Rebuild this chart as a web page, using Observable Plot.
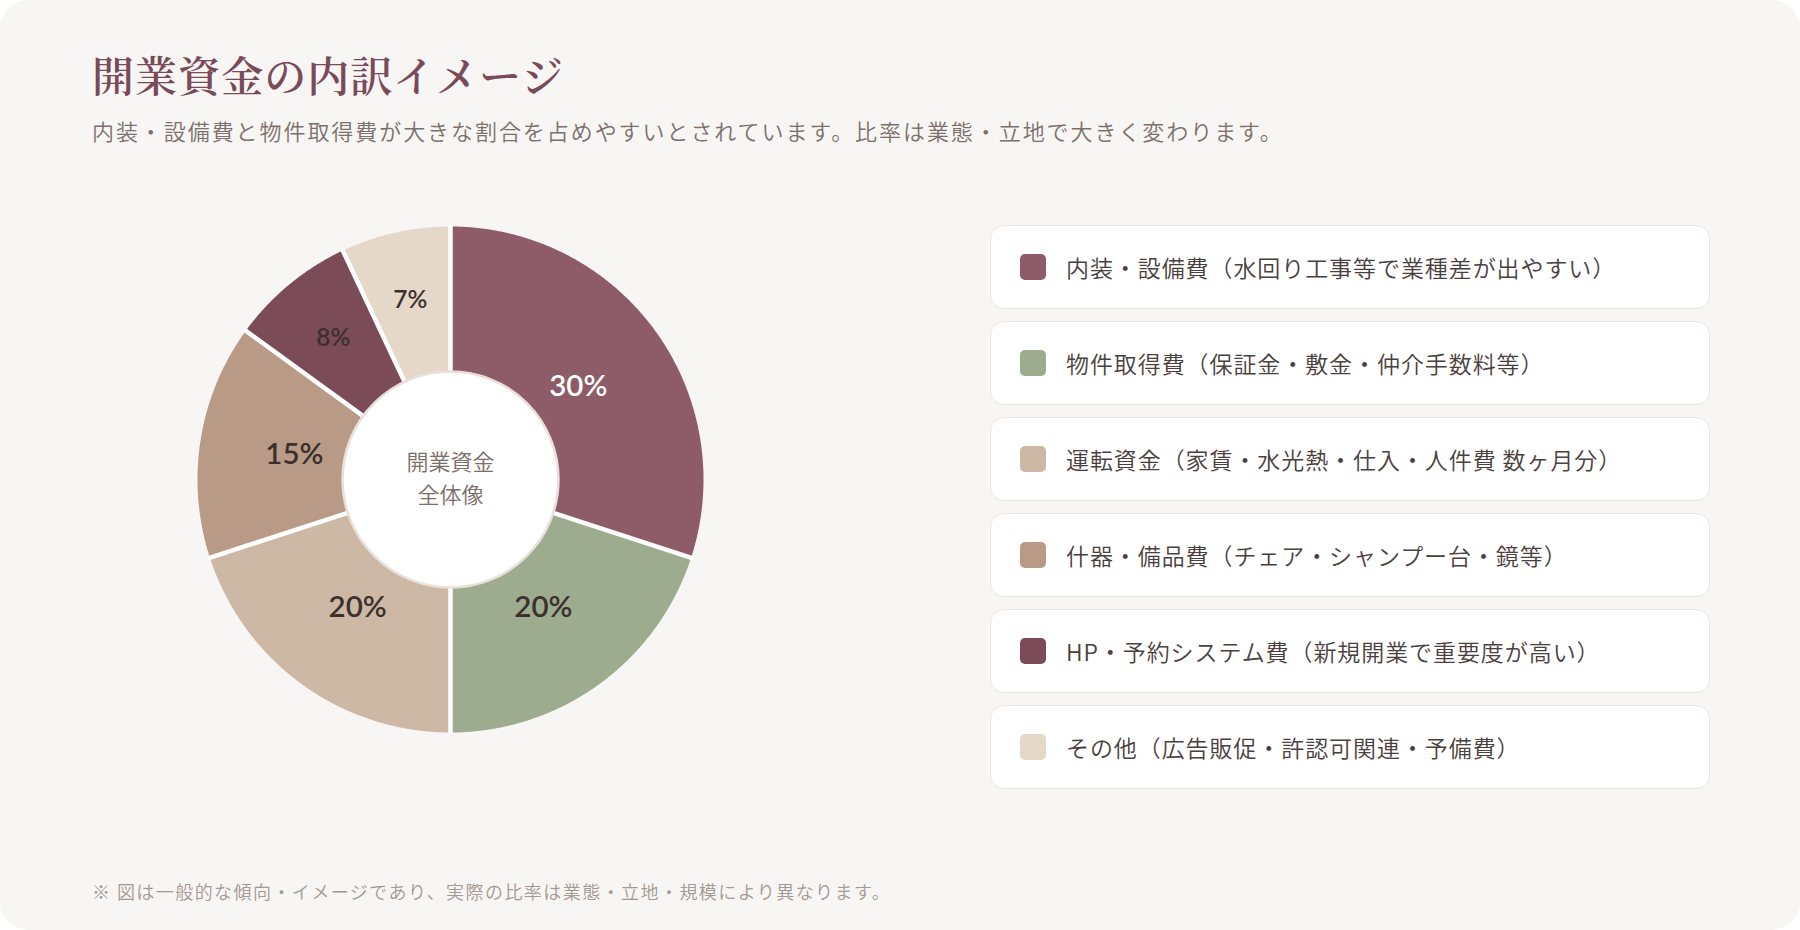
<!DOCTYPE html>
<html lang="ja">
<head>
<meta charset="utf-8">
<title>開業資金の内訳イメージ</title>
<script src="https://cdn.jsdelivr.net/npm/d3@7"></script>
<script src="https://cdn.jsdelivr.net/npm/@observablehq/plot@0.6"></script>
<style>
  html, body { margin: 0; padding: 0; background: #ffffff; }
  body { width: 1800px; height: 930px; overflow: hidden; font-family: "Noto Sans CJK JP", "Noto Sans", sans-serif; }
  .card { position: absolute; left: 0; top: 0; width: 1800px; height: 930px; background: #f8f6f4; border-radius: 28px; }
  .title { position: absolute; left: 92px; top: 53px; margin: 0; font-family: "Noto Serif CJK JP", "Noto Sans CJK JP", serif; font-weight: 600; font-size: 42px; line-height: 1; color: #7b4a58; letter-spacing: 0.025em; }
  .subtitle { position: absolute; left: 92px; top: 119px; margin: 0; font-size: 22px; line-height: 1; color: #7b706b; letter-spacing: 0.088em; font-weight: 350; }
  #chart { position: absolute; left: 150px; top: 179px; width: 600px; height: 600px; }
  .legend { position: absolute; left: 990px; top: 225px; width: 720px; display: flex; flex-direction: column; gap: 12px; }
  .item { box-sizing: border-box; height: 84px; background: #ffffff; border: 1.5px solid #ece5e1; border-radius: 14px; display: flex; align-items: center; padding-left: 29px; }
  .swatch { width: 26px; height: 26px; border-radius: 5px; flex: none; margin-right: 20px; }
  .label { font-size: 23px; color: #4a403d; letter-spacing: 0.04em; white-space: nowrap; font-weight: 350; }
  .note { position: absolute; left: 92px; top: 882px; margin: 0; font-size: 18px; line-height: 1; color: #a39893; letter-spacing: 0.08em; font-weight: 350; }
</style>
</head>
<body>
<div class="card">
  <h1 class="title">開業資金の内訳イメージ</h1>
  <p class="subtitle">内装・設備費と物件取得費が大きな割合を占めやすいとされています。比率は業態・立地で大きく変わります。</p>
  <div id="chart"></div>
  <div class="legend" id="legend"></div>
  <p class="note">※ 図は一般的な傾向・イメージであり、実際の比率は業態・立地・規模により異なります。</p>
</div>
<script>
// Breakdown of start-up funds (percent of total), clockwise from 12 o'clock
const categories = ["内装・設備費", "物件取得費", "運転資金", "什器・備品費", "HP・予約システム費", "その他"];
const details = [
  "（水回り工事等で業種差が出やすい）",
  "（保証金・敷金・仲介手数料等）",
  "（家賃・水光熱・仕入・人件費 数ヶ月分）",
  "（チェア・シャンプー台・鏡等）",
  "（新規開業で重要度が高い）",
  "（広告販促・許認可関連・予備費）"
];
const shares = [30, 20, 20, 15, 8, 7];
const colors = ["#8e5b68", "#9dab8f", "#cdb8a6", "#b99a86", "#7b4b57", "#e5d8c9"];
const centerLines = ["開業資金", "全体像"];

// Geometry of the donut, in pixels
const SIZE = 600, R = 253, R_IN = 108;
const R_LABEL = 158, R_LABEL_SMALL = 184;

const rows = categories.map((name, i) => ({name, value: shares[i], color: colors[i]}));
const arcs = d3.pie().sort(null).value(d => d.value)(rows);

// Polygon outline for each slice: centre, then along the outer rim
const step = Math.PI / 720;
const slicePoints = arcs.flatMap((a, i) => {
  const pts = [{k: i, color: a.data.color, x: 0, y: 0}];
  for (let t = a.startAngle; t < a.endAngle; t += step) {
    pts.push({k: i, color: a.data.color, x: R * Math.sin(t), y: R * Math.cos(t)});
  }
  pts.push({k: i, color: a.data.color, x: R * Math.sin(a.endAngle), y: R * Math.cos(a.endAngle)});
  return pts;
});

const mid = a => (a.startAngle + a.endAngle) / 2;
const labelR = a => (a.data.value < 10 ? R_LABEL_SMALL : R_LABEL);
const big = arcs.filter(a => a.data.value >= 10);
const small = arcs.filter(a => a.data.value < 10);

const numFont = "Lato, 'Noto Sans', sans-serif";

const chart = Plot.plot({
  width: SIZE,
  height: SIZE,
  margin: 0,
  x: {domain: [-SIZE / 2, SIZE / 2], range: [0, SIZE], axis: null},
  y: {domain: [-SIZE / 2, SIZE / 2], range: [SIZE, 0], axis: null},
  style: {background: "transparent", overflow: "visible"},
  marks: [
    Plot.line(slicePoints, {x: "x", y: "y", z: "k", fill: "color", stroke: null, curve: "linear-closed"}),
    Plot.link(arcs, {
      x1: a => (R_IN - 4) * Math.sin(a.startAngle), y1: a => (R_IN - 4) * Math.cos(a.startAngle),
      x2: a => (R + 2) * Math.sin(a.startAngle), y2: a => (R + 2) * Math.cos(a.startAngle),
      stroke: "#ffffff", strokeWidth: 4.5, strokeLinecap: "butt"
    }),
    Plot.dot([{x: 0, y: 0}], {x: "x", y: "y", r: R_IN, fill: "#ffffff", stroke: "#e9dfdb", strokeWidth: 2.5}),
    Plot.text([centerLines.join("\n")], {
      x: () => 0, y: () => 0, text: d => d, lineHeight: 1.5, dy: -4,
      fontSize: 22, fontWeight: 350, fill: "#7a6e69", fontFamily: "'Noto Sans CJK JP', sans-serif"
    }),
    Plot.text(big, {
      x: a => labelR(a) * Math.sin(mid(a)), y: a => labelR(a) * Math.cos(mid(a)),
      text: a => `${a.data.value}%`,
      fill: a => (a.data.value >= 30 ? "#ffffff" : "#3b302d"),
      fontSize: 29.5, fontWeight: 600, fontFamily: numFont
    }),
    Plot.text(small, {
      x: a => labelR(a) * Math.sin(mid(a)), y: a => labelR(a) * Math.cos(mid(a)),
      text: a => `${a.data.value}%`,
      fill: "#3b302d", fontSize: 24.5, fontWeight: 600, fontFamily: numFont
    })
  ]
});
document.getElementById("chart").appendChild(chart);

// Legend cards
const legend = d3.select("#legend");
rows.forEach((r, i) => {
  const item = legend.append("div").attr("class", "item");
  item.append("div").attr("class", "swatch").style("background", r.color);
  item.append("div").attr("class", "label").text(r.name + details[i]);
});
</script>
</body>
</html>
